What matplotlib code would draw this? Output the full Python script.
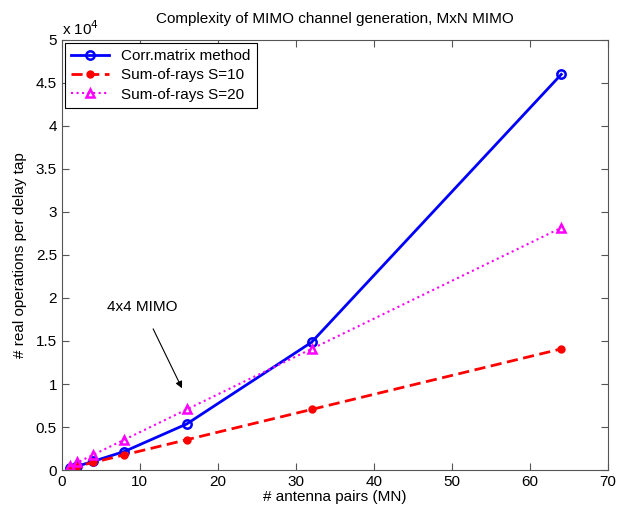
import matplotlib
matplotlib.use("Agg")
import matplotlib.pyplot as plt
from matplotlib.ticker import FuncFormatter

plt.rcParams["font.family"] = ["Liberation Sans", "DejaVu Sans"]

mn = [1, 2, 4, 8, 16, 32, 64]
corr_matrix = [200, 450, 1000, 2150, 5350, 14850, 46000]
rays_s10 = [220, 440, 880, 1760, 3520, 7040, 14080]
rays_s20 = [440, 880, 1760, 3520, 7040, 14080, 28160]

fig = plt.figure(figsize=(6.18, 5.12), dpi=100)
ax = fig.add_axes([0.1, 0.082, 0.884, 0.84])

ax.plot(mn, corr_matrix, "-o", color="#0000ff", linewidth=2, markersize=6,
        markerfacecolor="none", markeredgewidth=1.8, label="Corr.matrix method")
ax.plot(mn, rays_s10, "--o", color="#ff0000", linewidth=2, markersize=5,
        markerfacecolor="#ff0000", dashes=(4, 2), label="Sum-of-rays S=10")
ax.plot(mn, rays_s20, ":^", color="#ff00ff", linewidth=1.5, markersize=6,
        markerfacecolor="none", markeredgewidth=1.8, label="Sum-of-rays S=20")

ax.set_xlim(0, 70)
ax.set_ylim(0, 50000)
ax.set_xticks(range(0, 71, 10))
ax.set_yticks([i * 5000 for i in range(11)])
ax.yaxis.set_major_formatter(FuncFormatter(lambda v, _: f"{v / 1e4:g}"))
ax.tick_params(direction="in", top=True, right=True, labelsize=11, length=5,
               color="#555555")
for s in ax.spines.values():
    s.set_color("#555555")

ax.text(0.0, 1.005, r"x 10$^4$", transform=ax.transAxes, fontsize=11,
        ha="left", va="bottom")
ax.set_title("Complexity of MIMO channel generation, MxN MIMO", fontsize=11, pad=12)
ax.set_xlabel("# antenna pairs (MN)", fontsize=11, labelpad=1)
ax.set_ylabel("# real operations per delay tap", fontsize=11, labelpad=6)

ax.annotate("4x4 MIMO", xy=(15.4, 9500), xytext=(5.8, 19000), fontsize=11,
            va="center", ha="left",
            arrowprops=dict(arrowstyle="-|>", color="black", lw=0.8,
                            shrinkA=10, shrinkB=0, mutation_scale=10))

leg = ax.legend(loc="upper left", fontsize=11, fancybox=False, framealpha=1,
                edgecolor="black", borderaxespad=0.2, handlelength=2.5,
                labelspacing=0.35)
leg.get_frame().set_linewidth(0.8)

fig.savefig("out.png", dpi=100)
